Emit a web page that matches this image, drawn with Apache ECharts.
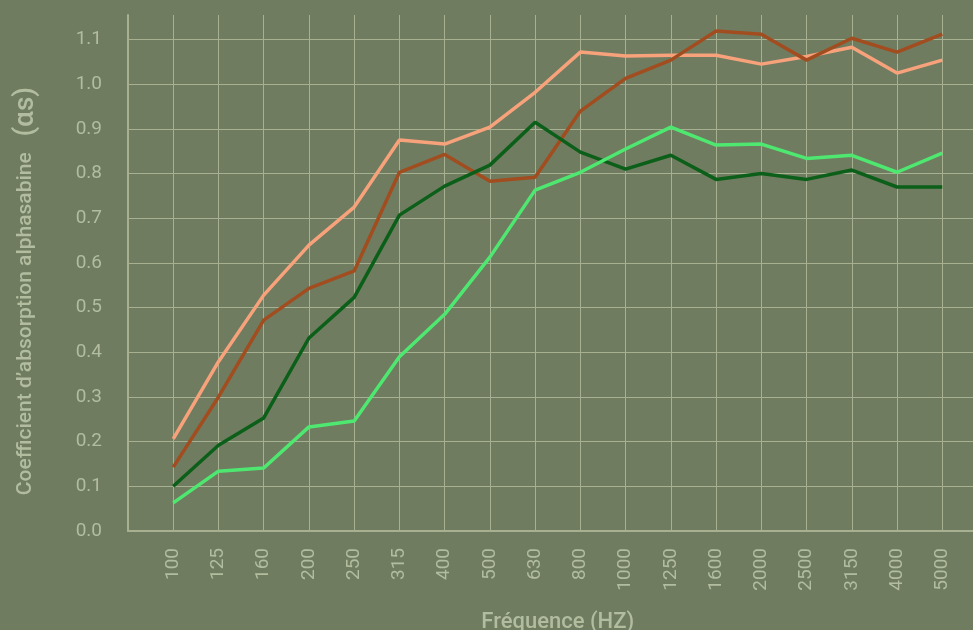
<!DOCTYPE html>
<html>
<head>
<meta charset="utf-8">
<title>Coefficient d'absorption</title>
<script src="https://cdn.jsdelivr.net/npm/echarts@6/dist/echarts.min.js"></script>
<style>
  html, body { margin: 0; padding: 0; background: #6f7c60; }
  #chart { width: 973px; height: 630px; }
</style>
</head>
<body>
<div id="chart"></div>
<script>
// fréquences (Hz)
const frequencies = ['100', '125', '160', '200', '250', '315', '400', '500', '630', '800',
  '1000', '1250', '1600', '2000', '2500', '3150', '4000', '5000'];

// coefficients
const salmonValues = [0.206, 0.379, 0.528, 0.64, 0.725, 0.875, 0.866, 0.904, 0.982, 1.072,
  1.063, 1.065, 1.065, 1.045, 1.062, 1.083, 1.025, 1.054];
const brownValues = [0.143, 0.30, 0.472, 0.543, 0.582, 0.803, 0.843, 0.783, 0.792, 0.94,
  1.013, 1.054, 1.119, 1.112, 1.054, 1.103, 1.072, 1.112];
const darkGreenValues = [0.10, 0.192, 0.253, 0.432, 0.523, 0.707, 0.772, 0.819, 0.915, 0.848,
  0.81, 0.841, 0.787, 0.80, 0.787, 0.808, 0.77, 0.77];
const lightGreenValues = [0.063, 0.134, 0.141, 0.233, 0.246, 0.39, 0.485, 0.613, 0.763, 0.803,
  0.855, 0.904, 0.864, 0.866, 0.834, 0.841, 0.803, 0.846];

const yTicks = [0, 0.1, 0.2, 0.3, 0.4, 0.5, 0.6, 0.7, 0.8, 0.9, 1.0, 1.1];

const textColor = '#b2bc9f';
const gridColor = '#a7b191';

// lignes de grille : la dernière (max de l'axe) reste invisible
const hLineColors = yTicks.map(() => gridColor).concat(['rgba(0,0,0,0)']);

function makeSeries(name, values, color) {
  return {
    name: name,
    type: 'line',
    data: frequencies.map((f, i) => [f, values[i]]),
    showSymbol: false,
    lineStyle: { color: color, width: 3.5 },
    itemStyle: { color: color },
    z: 3
  };
}

const chart = echarts.init(document.getElementById('chart'));
chart.setOption({
  backgroundColor: '#6f7c60',
  animation: false,
  textStyle: { fontFamily: 'Roboto' },
  grid: {
    left: 128, right: -14.5, top: 15, bottom: 99,
    containLabel: false, outerBoundsMode: 'none'
  },
  xAxis: {
    type: 'category',
    // une case vide de chaque côté pour décaler les points
    data: [''].concat(frequencies, ['']),
    boundaryGap: false,
    axisLine: { show: true, lineStyle: { color: gridColor, width: 2 } },
    axisTick: { show: false },
    axisLabel: { rotate: 90, fontSize: 19, color: textColor, margin: 17, interval: 0 },
    splitLine: { show: true, lineStyle: { color: gridColor, width: 1 } },
    name: 'Fréquence (HZ)',
    nameLocation: 'middle',
    nameGap: 80,
    nameTextStyle: { fontSize: 22, fontWeight: 500, color: textColor }
  },
  yAxis: {
    type: 'value',
    min: 0,
    max: 1.155,
    interval: 0.1,
    axisLine: { show: true, lineStyle: { color: gridColor, width: 2 } },
    axisTick: { show: false },
    axisLabel: {
      fontSize: 19, color: textColor, margin: 26, showMaxLabel: false,
      formatter: (v) => v.toFixed(1)
    },
    splitLine: { show: true, lineStyle: { color: hLineColors, width: 1 } },
    name: 'Coefficient d\u2019absorption alphasabine   {a|(αs)}',
    nameLocation: 'middle',
    nameRotate: 90,
    nameGap: 88,
    nameTextStyle: {
      fontSize: 21, fontWeight: 500, color: textColor,
      padding: [0, 36, 0, 0],
      rich: { a: { fontSize: 28, color: textColor } }
    }
  },
  series: [
    makeSeries('A', salmonValues, '#f7a27b'),
    makeSeries('B', brownValues, '#a24d1f'),
    makeSeries('C', darkGreenValues, '#0b5f19'),
    makeSeries('D', lightGreenValues, '#4ee870')
  ]
});
</script>
</body>
</html>
